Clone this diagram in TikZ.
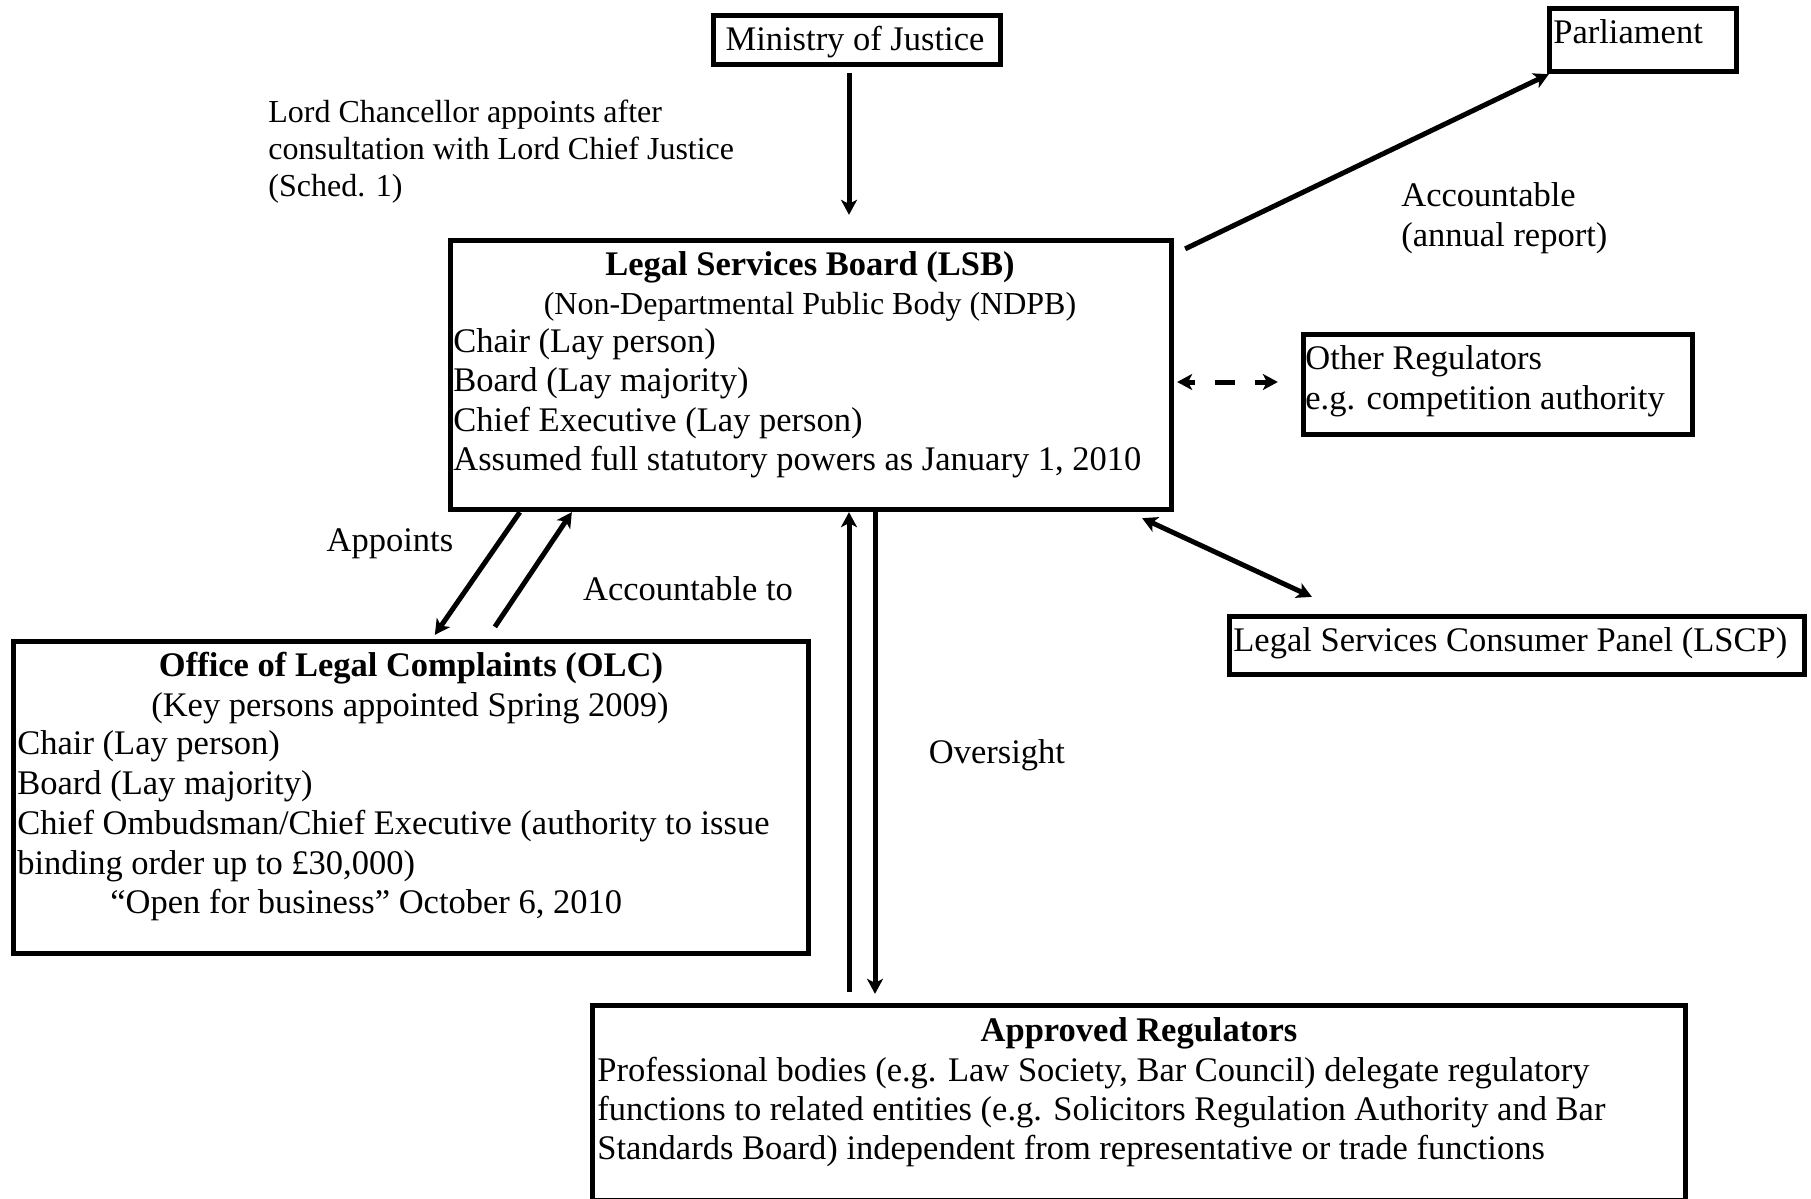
\documentclass[tikz,border=0pt]{standalone}
\usepackage{fontspec}
\setmainfont{Liberation Serif}
\usetikzlibrary{arrows.meta}
\newcommand\diafont{\fontsize{17.25pt}{19.8pt}\selectfont}
\newcommand\smallfont{\fontsize{16pt}{18.5pt}\selectfont}
\begin{document}
\begin{tikzpicture}[x=0.5pt,y=-0.5pt,
  box/.style={draw, line width=2.65pt, inner sep=0pt},
  txt/.style={inner sep=0pt, anchor=base west, font=\diafont},
  ctxt/.style={inner sep=0pt, anchor=base, font=\diafont},
  stxt/.style={inner sep=0pt, anchor=base west, font=\smallfont},
  tip/.tip={Stealth[length=7.5pt,width=8pt,inset=2pt]},
  arr/.style={line width=2.5pt, -tip},
  darr/.style={line width=2.5pt, tip-tip}]
\useasboundingbox (0,0) rectangle (1811,1199);
\clip (0,0) rectangle (1811,1199);
\fill[white] (0,0) rectangle (1811,1199);

% boxes
\node[box, minimum width=143.5pt, minimum height=24.5pt] (moj) at (857,40) {};
\node[box, minimum width=93.5pt, minimum height=31.5pt] (parl) at (1643,40) {};
\node[box, minimum width=360.5pt, minimum height=134.5pt] (lsb) at (811,375) {};
\node[box, minimum width=194.5pt, minimum height=50pt] (other) at (1498,384.5) {};
\node[box, minimum width=397.5pt, minimum height=156pt] (olc) at (411,797.5) {};
\node[box, minimum width=287.5pt, minimum height=29pt] (lscp) at (1517,645.5) {};
\node[box, minimum width=546.5pt, minimum height=97.75pt] (apr) at (1139,1103.25) {};

% box texts
\node[ctxt] (mojt) at (855,50.5) {Ministry of Justice};
\node[txt] (parlt) at (1553,43) {Parliament};

\node[ctxt] (lsb1) at (810,275) {\textbf{Legal Services Board (LSB)}};
\node[ctxt, font=\smallfont] (lsb2) at (810,314) {(Non-Departmental Public Body (NDPB)};
\node[txt] (lsb3) at (453,352) {Chair (Lay person)};
\node[txt] (lsb4) at (453,391.5) {Board (Lay majority)};
\node[txt] (lsb5) at (453,431) {Chief Executive (Lay person)};
\node[txt] (lsb6) at (453,470.5) {Assumed full statutory powers as January 1, 2010};

\node[txt] (oth1) at (1305,369) {Other Regulators};
\node[txt] (oth2) at (1305,409.5) {e.g. competition authority};

\node[ctxt] (olc1) at (411,676) {\textbf{Office of Legal Complaints (OLC)}};
\node[ctxt] (olc2) at (410,716) {(Key persons appointed Spring 2009)};
\node[txt] (olc3) at (17,754.5) {Chair (Lay person)};
\node[txt] (olc4) at (17,794.5) {Board (Lay majority)};
\node[txt] (olc5) at (17,834.5) {Chief Ombudsman/Chief Executive (authority to issue};
\node[txt] (olc6) at (17,874) {binding order up to £30,000)};
\node[txt] (olc7) at (110,913) {“Open for business” October 6, 2010};

\node[txt] (lscpt) at (1233,651) {Legal Services Consumer Panel (LSCP)};

\node[ctxt] (apr1) at (1139,1041) {\textbf{Approved Regulators}};
\node[txt] (apr2) at (597,1081) {Professional bodies (e.g. Law Society, Bar Council) delegate regulatory};
\node[txt] (apr3) at (597,1120) {functions to related entities (e.g. Solicitors Regulation Authority and Bar};
\node[txt] (apr4) at (597,1159) {Standards Board) independent from representative or trade functions};

% free labels
\node[stxt] (lc1) at (268,122) {Lord Chancellor appoints after};
\node[stxt] (lc2) at (268,159) {consultation with Lord Chief Justice};
\node[stxt] (lc3) at (268,196) {(Sched. 1)};
\node[txt] (acc1) at (1401,206) {Accountable};
\node[txt] (acc2) at (1401,246.5) {(annual report)};
\node[ctxt] (appl) at (390,551) {Appoints};
\node[ctxt] (accl) at (688,600) {Accountable to};
\node[ctxt] (ovl) at (997,763.5) {Oversight};

% connectors
\draw[arr] ([xshift=-4pt,yshift=-3pt]moj.south) -- ([xshift=19pt,yshift=11.5pt]lsb.north);
\draw[arr] ([xshift=5.5pt,yshift=-5.5pt]lsb.north east) -- ([xshift=1pt]parl.south west);
\draw[darr, dash pattern=on 10pt off 10pt, dash phase=6pt] ([xshift=1.5pt,yshift=-3.5pt]lsb.east) -- ([xshift=-11.5pt,yshift=1.25pt]other.west);
\draw[darr] ([xshift=-16pt,yshift=-3pt]lsb.south east) -- ([xshift=42.5pt,yshift=8.5pt]lscp.north west);
\draw[arr] ([xshift=36pt]lsb.south west) -- ([xshift=212pt,yshift=2pt]olc.north west);
\draw[arr] ([xshift=242pt,yshift=6pt]olc.north west) -- ([xshift=62pt]lsb.south west);
\draw[arr] ([xshift=-145pt,yshift=5.5pt]apr.north) -- ([xshift=19pt]lsb.south);
\draw[arr] ([xshift=32pt]lsb.south) -- ([xshift=-132pt,yshift=4.5pt]apr.north);
\end{tikzpicture}
\end{document}
